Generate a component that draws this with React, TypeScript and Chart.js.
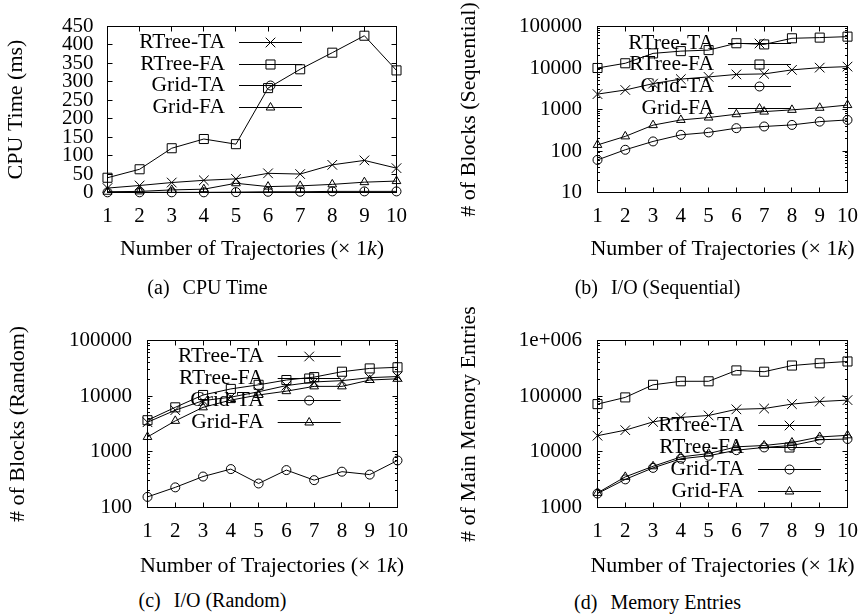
import React, { useEffect, useRef } from 'react';
import { Chart, registerables } from 'chart.js';

Chart.register(...registerables);

const FONT = "'Liberation Serif', 'Times New Roman', Times, serif";

// ---------- data ----------
const trajectoryLabels = ['1', '2', '3', '4', '5', '6', '7', '8', '9', '10'];
const seriesNames = ['RTree-TA', 'RTree-FA', 'Grid-TA', 'Grid-FA'];
const seriesStyles = ['crossRot', 'rect', 'circle', 'triangle'];
const seriesRadii = [6.8, 6.4, 4.5, 5];

// (a) CPU Time (ms)
const cpuRTreeTA = [12, 19, 27, 33, 37, 52, 50, 75, 87, 66];
const cpuRTreeFA = [40, 63, 120, 145, 131, 283, 334, 379, 425, 331];
const cpuGridTA = [0.5, 0.5, 0.5, 0.5, 1, 2, 2, 3, 3, 3];
const cpuGridFA = [2, 3, 7, 9, 25, 16, 18, 22, 28, 31];
const cpuTickValues = [0, 50, 100, 150, 200, 250, 300, 350, 400, 450];
const cpuTickLabels = ['0', '50', '100', '150', '200', '250', '300', '350', '400', '450'];

// (b) I/O sequential blocks
const seqRTreeTA = [2350, 2950, 4200, 5400, 6100, 7000, 7200, 9000, 10200, 10800];
const seqRTreeFA = [10000, 13000, 22500, 25500, 27000, 39500, 37000, 52000, 54000, 57000];
const seqGridTA = [61, 107, 170, 245, 280, 355, 390, 425, 510, 560];
const seqGridFA = [140, 225, 420, 560, 640, 770, 890, 980, 1100, 1280];
const seqTickValues = [10, 100, 1000, 10000, 100000];
const seqTickLabels = ['10', '100', '1000', '10000', '100000'];

// (c) I/O random blocks
const randRTreeTA = [3400, 5600, 8300, 9600, 12000, 15500, 18000, 19000, 21500, 22500];
const randRTreeFA = [3700, 6300, 10500, 13500, 16000, 19500, 22000, 27500, 31500, 33000];
const randGridTA = [155, 230, 360, 490, 270, 470, 310, 440, 390, 700];
const randGridFA = [1850, 3600, 6300, 8500, 10500, 12300, 15000, 15000, 19500, 20500];
const randTickValues = [100, 1000, 10000, 100000];
const randTickLabels = ['100', '1000', '10000', '100000'];

// (d) main memory entries
const memRTreeTA = [19500, 24500, 34500, 41500, 45000, 58000, 60000, 72000, 80000, 85000];
const memRTreeFA = [72000, 95000, 160000, 185000, 185000, 290000, 275000, 355000, 390000, 420000];
const memGridTA = [1780, 3200, 5150, 7500, 8500, 10700, 12000, 13000, 16500, 17000];
const memGridFA = [1830, 3550, 5500, 8100, 9300, 12300, 13000, 14700, 18500, 19800];
const memTickValues = [1000, 10000, 100000, 1000000];
const memTickLabels = ['1000', '10000', '100000', '1e+006'];

// ---------- layout ----------
type Panel = {
  key: string;
  canvas: { x: number; y: number; w: number; h: number };
  area: { l: number; t: number; r: number; b: number };
  yTitle: string;
  yType: 'linear' | 'logarithmic';
  yMin: number;
  yMax: number;
  tickValues: number[];
  tickLabels: string[];
  series: number[][];
  yLabelPad: number;
  yTitlePad: number;
  key_: { endFromRight: number; firstRow: number; rowGap: number };
};

const panels: Panel[] = [
  {
    key: 'a',
    canvas: { x: 0, y: 0, w: 431, h: 240 },
    area: { l: 107.5, t: 26.5, r: 396.5, b: 192.5 },
    yTitle: 'CPU Time (ms)',
    yType: 'linear',
    yMin: 0,
    yMax: 450,
    tickValues: cpuTickValues,
    tickLabels: cpuTickLabels,
    series: [cpuRTreeTA, cpuRTreeFA, cpuGridTA, cpuGridFA],
    yLabelPad: 14,
    yTitlePad: 2.8,
    key_: { endFromRight: 94.5, firstRow: 16.2, rowGap: 21.5 },
  },
  {
    key: 'b',
    canvas: { x: 431, y: 0, w: 431, h: 240 },
    area: { l: 597.5, t: 26.5, r: 847.5, b: 192.5 },
    yTitle: '# of Blocks (Sequential)',
    yType: 'logarithmic',
    yMin: 10,
    yMax: 100000,
    tickValues: seqTickValues,
    tickLabels: seqTickLabels,
    series: [seqRTreeTA, seqRTreeFA, seqGridTA, seqGridFA],
    yLabelPad: 15.5,
    yTitlePad: 24.8,
    key_: { endFromRight: 56.5, firstRow: 16.5, rowGap: 21.7 },
  },
  {
    key: 'c',
    canvas: { x: 0, y: 290, w: 431, h: 265 },
    area: { l: 147.5, t: 340.5, r: 397.5, b: 507.5 },
    yTitle: '# of Blocks (Random)',
    yType: 'logarithmic',
    yMin: 100,
    yMax: 100000,
    tickValues: randTickValues,
    tickLabels: randTickLabels,
    series: [randRTreeTA, randRTreeFA, randGridTA, randGridFA],
    yLabelPad: 15.5,
    yTitlePad: 4.8,
    key_: { endFromRight: 56.8, firstRow: 16.2, rowGap: 22 },
  },
  {
    key: 'd',
    canvas: { x: 431, y: 290, w: 431, h: 265 },
    area: { l: 597.5, t: 340.5, r: 847.5, b: 507.5 },
    yTitle: '# of Main Memory Entries',
    yType: 'logarithmic',
    yMin: 1000,
    yMax: 1000000,
    tickValues: memTickValues,
    tickLabels: memTickLabels,
    series: [memRTreeTA, memRTreeFA, memGridTA, memGridFA],
    yLabelPad: 15.5,
    yTitlePad: 24.8,
    key_: { endFromRight: 26.5, firstRow: 84.5, rowGap: 22.2 },
  },
];

const xTitles = [
  { x: 252, y: 248 },
  { x: 722.5, y: 248 },
  { x: 272, y: 565 },
  { x: 722.5, y: 564.5 },
];
const captions = [
  { x: 207.5, y: 287, tag: '(a)', text: 'CPU Time' },
  { x: 657.5, y: 287, tag: '(b)', text: 'I/O (Sequential)' },
  { x: 212.5, y: 600, tag: '(c)', text: 'I/O (Random)' },
  { x: 657.5, y: 601.5, tag: '(d)', text: 'Memory Entries' },
];

// ---------- drawing helpers ----------
function drawMarker(ctx: CanvasRenderingContext2D, style: string, r: number, x: number, y: number) {
  ctx.beginPath();
  if (style === 'crossRot') {
    const o = Math.SQRT1_2 * r;
    ctx.moveTo(x - o, y - o);
    ctx.lineTo(x + o, y + o);
    ctx.moveTo(x + o, y - o);
    ctx.lineTo(x - o, y + o);
  } else if (style === 'rect') {
    const s = Math.SQRT1_2 * r;
    ctx.rect(x - s, y - s, 2 * s, 2 * s);
  } else if (style === 'circle') {
    ctx.arc(x, y, r, 0, Math.PI * 2);
  } else if (style === 'triangle') {
    let rad = 0;
    ctx.moveTo(x + Math.sin(rad) * r, y - Math.cos(rad) * r);
    rad += (2 * Math.PI) / 3;
    ctx.lineTo(x + Math.sin(rad) * r, y - Math.cos(rad) * r);
    rad += (2 * Math.PI) / 3;
    ctx.lineTo(x + Math.sin(rad) * r, y - Math.cos(rad) * r);
    ctx.closePath();
  }
  ctx.stroke();
}

const frameTicksPlugin = {
  id: 'frameTicks',
  afterDatasetsDraw(chart: any) {
    const { ctx, chartArea: a, scales } = chart;
    const xs = scales.x;
    const ys = scales.y;
    const major = 5;
    const minor = 2.5;
    ctx.save();
    ctx.strokeStyle = '#000';
    ctx.lineWidth = 1;
    ctx.beginPath();
    // x ticks (bottom & top, inward)
    for (let i = 0; i < xs.ticks.length; i++) {
      const px = Math.round(xs.getPixelForTick(i) - 0.5) + 0.5;
      ctx.moveTo(px, a.bottom);
      ctx.lineTo(px, a.bottom - major);
      ctx.moveTo(px, a.top);
      ctx.lineTo(px, a.top + major);
    }
    // y ticks (left & right, inward)
    const yTick = (v: number, len: number) => {
      const py = Math.round(ys.getPixelForValue(v) - 0.5) + 0.5;
      ctx.moveTo(a.left, py);
      ctx.lineTo(a.left + len, py);
      ctx.moveTo(a.right, py);
      ctx.lineTo(a.right - len, py);
    };
    if (ys.type === 'logarithmic') {
      const e0 = Math.round(Math.log10(ys.min));
      const e1 = Math.round(Math.log10(ys.max));
      for (let e = e0; e <= e1; e++) {
        for (let m = 1; m <= 9; m++) {
          const v = m * Math.pow(10, e);
          if (v < ys.min * 0.999 || v > ys.max * 1.001) continue;
          yTick(v, m === 1 ? major : minor);
        }
      }
    } else {
      ys.ticks.forEach((t: any) => yTick(t.value, major));
    }
    ctx.stroke();
    ctx.strokeRect(a.left, a.top, a.right - a.left, a.bottom - a.top);
    ctx.restore();
  },
};

const keyPlugin = {
  id: 'gnuKey',
  beforeDatasetsDraw(chart: any, _args: any, opts: any) {
    const { ctx, chartArea: a } = chart;
    const lineLen = 63;
    const textGap = 14;
    const lineEnd = a.right - opts.endFromRight;
    const lineStart = lineEnd - lineLen;
    const textRight = lineStart - textGap;
    ctx.save();
    ctx.fillStyle = '#000';
    ctx.strokeStyle = '#000';
    ctx.lineWidth = 1;
    ctx.font = `21.5px ${FONT}`;
    ctx.textAlign = 'right';
    ctx.textBaseline = 'middle';
    chart.data.datasets.forEach((ds: any, i: number) => {
      const y = a.top + opts.firstRow + i * opts.rowGap;
      ctx.fillText(ds.label, textRight, y);
      const yy = Math.round(y - 0.5) + 0.5;
      ctx.beginPath();
      ctx.moveTo(lineStart, yy);
      ctx.lineTo(lineEnd, yy);
      ctx.stroke();
      drawMarker(ctx, ds.pointStyle, ds.pointRadius, (lineStart + lineEnd) / 2, yy);
    });
    ctx.restore();
  },
};

// ---------- components ----------
function ChartPanel({ panel }: { panel: Panel }) {
  const ref = useRef<HTMLCanvasElement>(null);
  useEffect(() => {
    const cv = panel.canvas;
    const ar = panel.area;
    const chart = new Chart(ref.current as HTMLCanvasElement, {
      type: 'line',
      data: {
        labels: trajectoryLabels,
        datasets: panel.series.map((vals, i) => ({
          label: seriesNames[i],
          data: vals,
          borderColor: '#000',
          borderWidth: 1,
          backgroundColor: 'rgba(0,0,0,0)',
          pointStyle: seriesStyles[i],
          pointRadius: seriesRadii[i],
          pointBorderWidth: 1,
          pointBorderColor: '#000',
          pointBackgroundColor: 'rgba(0,0,0,0)',
          tension: 0,
          fill: false,
          clip: false,
        })),
      },
      options: {
        animation: false,
        responsive: false,
        maintainAspectRatio: false,
        events: [],
        layout: {
          padding: { left: 0, top: ar.t - cv.y, right: cv.x + cv.w - ar.r, bottom: 0 },
        },
        plugins: {
          legend: { display: false },
          tooltip: { enabled: false },
          gnuKey: panel.key_,
        } as any,
        scales: {
          x: {
            type: 'category',
            offset: false,
            grid: { display: false, drawTicks: false },
            border: { display: false },
            ticks: {
              autoSkip: false,
              maxRotation: 0,
              minRotation: 0,
              padding: 11.7,
              color: '#000',
              font: { family: FONT, size: 21 },
            },
            afterFit: (s: any) => {
              s.height = cv.y + cv.h - ar.b;
              s.paddingLeft = 0;
              s.paddingRight = 0;
            },
          },
          y: {
            type: panel.yType,
            min: panel.yMin,
            max: panel.yMax,
            grid: { display: false, drawTicks: false },
            border: { display: false },
            afterBuildTicks: (s: any) => {
              s.ticks = panel.tickValues.map((v) => ({ value: v }));
            },
            ticks: {
              autoSkip: false,
              padding: panel.yLabelPad,
              color: '#000',
              font: { family: FONT, size: 21 },
              callback: (_v: any, idx: number) => panel.tickLabels[idx],
            },
            title: {
              display: true,
              text: panel.yTitle,
              color: '#000',
              font: { family: FONT, size: 22, lineHeight: 1.2 },
              padding: { top: panel.yTitlePad, bottom: 0 },
            },
            afterFit: (s: any) => {
              s.width = ar.l - cv.x;
              s.paddingTop = 0;
              s.paddingBottom = 0;
            },
          } as any,
        },
      },
      plugins: [frameTicksPlugin, keyPlugin],
    } as any);
    return () => chart.destroy();
  }, [panel]);
  const cv = panel.canvas;
  return (
    <canvas
      ref={ref}
      width={cv.w}
      height={cv.h}
      style={{ position: 'absolute', left: cv.x, top: cv.y, width: cv.w, height: cv.h, display: 'block' }}
    />
  );
}

export default function App() {
  const textBase: React.CSSProperties = {
    position: 'absolute',
    transform: 'translate(-50%, -50%)',
    whiteSpace: 'nowrap',
    fontFamily: FONT,
    lineHeight: 1,
    color: '#000',
  };
  return (
    <div style={{ position: 'absolute', left: 0, top: 0, width: 862, height: 616, background: '#fff', overflow: 'hidden' }}>
      {panels.map((p) => (
        <ChartPanel key={p.key} panel={p} />
      ))}
      {xTitles.map((t, i) => (
        <div key={'xt' + i} style={{ ...textBase, left: t.x, top: t.y, fontSize: 22 }}>
          Number of Trajectories (× 1<i>k</i>)
        </div>
      ))}
      {captions.map((c, i) => (
        <div key={'cap' + i} style={{ ...textBase, left: c.x, top: c.y, fontSize: 20 }}>
          {c.tag}
          <span style={{ paddingLeft: 13 }}>{c.text}</span>
        </div>
      ))}
    </div>
  );
}
